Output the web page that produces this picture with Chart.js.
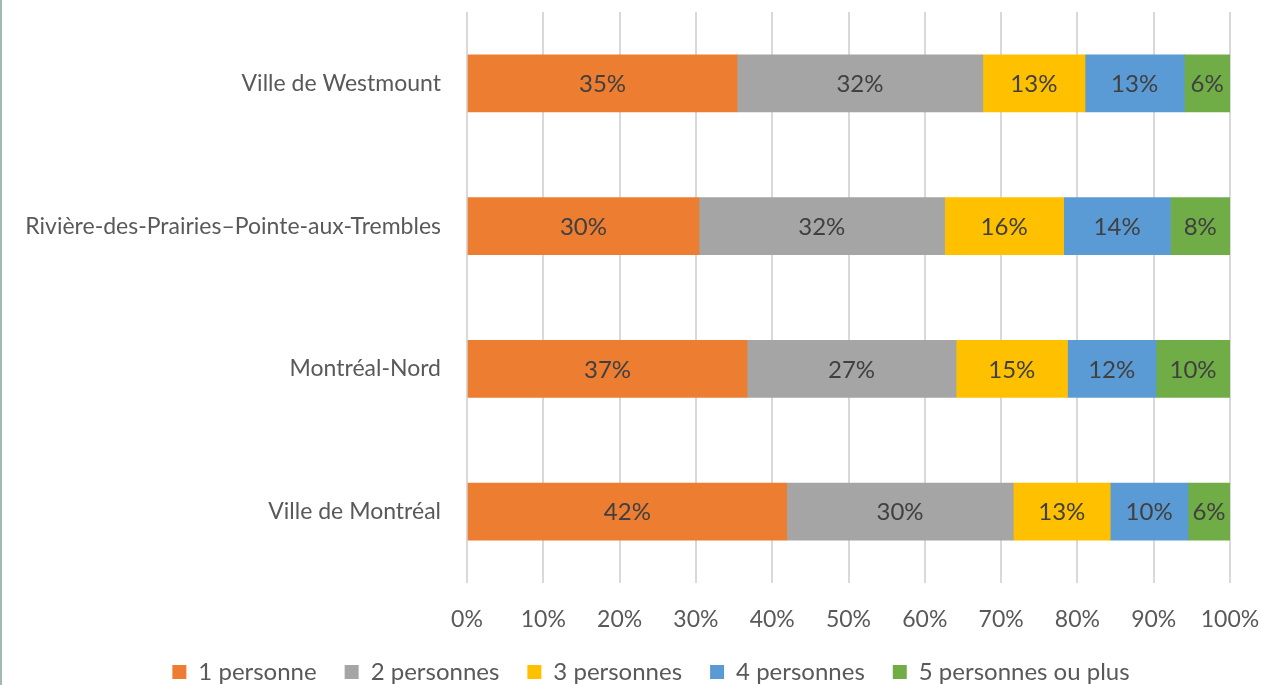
<!DOCTYPE html>
<html>
<head>
<meta charset="utf-8">
<script src="https://cdn.jsdelivr.net/npm/chart.js@4"></script>
<style>
  html, body { margin: 0; padding: 0; background: #fff; }
  body { width: 1261px; height: 685px; overflow: hidden; box-sizing: border-box; border-left: 2px solid #a3bab2; }
  #wrap { position: absolute; left: 0; top: 0; width: 1261px; height: 685px; }
</style>
</head>
<body>
<div id="wrap"><canvas id="chart"></canvas></div>
<script>
const categories = ['Ville de Westmount', 'Rivière-des-Prairies–Pointe-aux-Trembles', 'Montréal-Nord', 'Ville de Montréal'];
const seriesNames = ['1 personne', '2 personnes', '3 personnes', '4 personnes', '5 personnes ou plus'];
const onePerson = [35.4, 30.4, 36.7, 41.9];
const twoPersons = [32.2, 32.2, 27.4, 29.7];
const threePersons = [13.4, 15.6, 14.6, 12.7];
const fourPersons = [13.0, 14.0, 11.6, 10.2];
const fivePlus = [6.0, 7.8, 9.7, 5.5];
const xTicks = [0, 10, 20, 30, 40, 50, 60, 70, 80, 90, 100];
const colors = ['#ED7D31', '#A5A5A5', '#FFC000', '#5B9BD5', '#70AD47'];

const FONT = 'Lato, "Open Sans", sans-serif';

// draws rounded % in the middle of each segment
const segmentLabels = {
    id: 'segmentLabels',
    afterDatasetsDraw(chart) {
        const ctx = chart.ctx;
        ctx.save();
        ctx.font = '24px ' + FONT;
        ctx.fillStyle = '#404040';
        ctx.textAlign = 'center';
        ctx.textBaseline = 'middle';
        chart.data.datasets.forEach((ds, i) => {
            chart.getDatasetMeta(i).data.forEach((bar, j) => {
                const p = bar.getProps(['x', 'y', 'base']);
                ctx.fillText(Math.round(ds.data[j]) + '%', (p.x + p.base) / 2, p.y + 1);
            });
        });
        ctx.restore();
    }
};

// nudge legend to the right a bit, like the original
const legendShift = {
    id: 'legendShift',
    afterLayout(chart) {
        chart.legend.left += 36;
        chart.legend.right += 36;
    }
};

function noPadding(axis) {
    axis.paddingTop = 0;
    axis.paddingBottom = 0;
    axis.paddingLeft = 0;
    axis.paddingRight = 0;
}

const allSeries = [onePerson, twoPersons, threePersons, fourPersons, fivePlus];

new Chart(document.getElementById('chart'), {
    type: 'bar',
    data: {
        labels: categories,
        datasets: allSeries.map((vals, i) => ({
            label: seriesNames[i],
            data: vals,
            backgroundColor: colors[i],
            borderWidth: 0,
            barThickness: 57
        }))
    },
    options: {
        indexAxis: 'y',
        responsive: true,
        maintainAspectRatio: false,
        animation: false,
        layout: { padding: { left: 0, right: 31, top: 12, bottom: 0 } },
        plugins: {
            tooltip: { enabled: false },
            legend: {
                position: 'bottom',
                maxHeight: 53,
                labels: {
                    font: { family: FONT, size: 24 },
                    color: '#595959',
                    boxWidth: 14,
                    boxHeight: 14,
                    padding: 28
                }
            }
        },
        scales: {
            x: {
                stacked: true,
                min: 0,
                max: 100,
                afterBuildTicks(axis) { axis.ticks = xTicks.map(v => ({ value: v })); },
                afterFit(axis) { axis.height = 49; noPadding(axis); },
                grid: { color: '#d9d9d9', lineWidth: 2, drawTicks: false },
                border: { display: false },
                ticks: {
                    padding: 23,
                    color: '#595959',
                    font: { family: FONT, size: 23 },
                    callback: v => v + '%'
                }
            },
            y: {
                stacked: true,
                afterFit(axis) { axis.width = 467; noPadding(axis); },
                grid: { display: false, drawTicks: false },
                border: { display: false },
                ticks: {
                    padding: 26,
                    color: '#595959',
                    font: { family: FONT, size: 23 }
                }
            }
        }
    },
    plugins: [segmentLabels, legendShift]
});
</script>
</body>
</html>
